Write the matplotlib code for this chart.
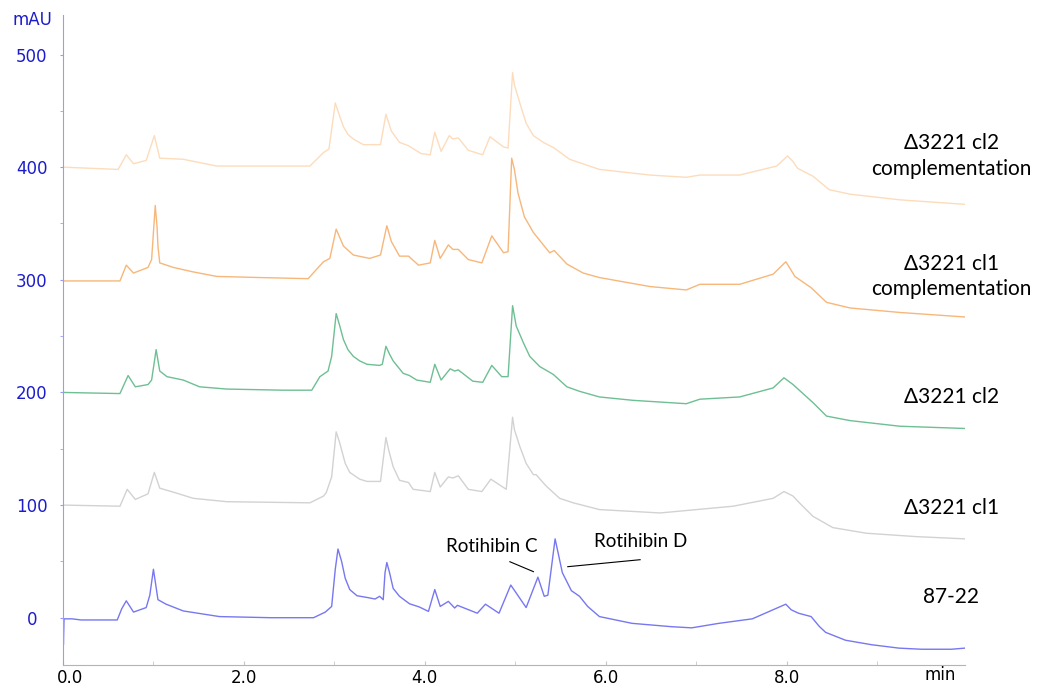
import matplotlib.pyplot as plt
import matplotlib.transforms as mtransforms
from matplotlib.ticker import MultipleLocator

# retention time (min) / absorbance (mAU)
t_8722 = [0.0, 0.005, 0.012, 0.1, 0.2, 0.6, 0.65, 0.70, 0.78, 0.92, 0.96, 1.0, 1.05, 1.14, 1.33,
          1.73, 2.3, 2.77, 2.90, 2.97, 3.01, 3.04, 3.08, 3.12, 3.17, 3.25, 3.36, 3.45, 3.50,
          3.54, 3.56, 3.58, 3.61, 3.65, 3.72, 3.83, 3.94, 4.04, 4.11, 4.17, 4.26, 4.33, 4.36,
          4.58, 4.67, 4.82, 4.95, 5.12, 5.25, 5.32, 5.36, 5.44, 5.52, 5.62, 5.71, 5.80, 5.93,
          6.29, 6.73, 6.95, 7.25, 7.62, 7.99, 8.05, 8.13, 8.27, 8.36, 8.43, 8.65, 8.94, 9.24,
          9.49, 9.82, 9.97]
v_8722 = [0, -24, -1, -1, -2, -2, 8, 15, 5, 9, 20, 43, 16, 12, 6,
          1, 0, 0, 5, 10, 43, 61, 50, 35, 25, 19.5, 18, 16.6, 19,
          16, 40, 49, 40, 26, 19, 12.4, 9.5, 5.6, 25, 10, 14.5, 8.6, 11,
          4, 12, 4, 29, 9, 36, 19, 20, 70, 40, 24, 19, 10, 1,
          -5, -8, -9, -5, -1, 12, 7, 4, 1, -7.7, -13, -20, -24, -27,
          -28, -28, -27]

t_cl1 = [0.0, 0.63, 0.71, 0.80, 0.94, 1.01, 1.07, 1.24, 1.44, 1.81, 2.73, 2.88, 2.91, 2.97,
         3.02, 3.06, 3.12, 3.17, 3.28, 3.36, 3.51, 3.57, 3.60, 3.65, 3.72, 3.82, 3.87, 4.06,
         4.11, 4.17, 4.26, 4.31, 4.37, 4.48, 4.63, 4.73, 4.90, 4.97, 4.99, 5.05, 5.12, 5.20,
         5.23, 5.34, 5.49, 5.64, 5.93, 6.60, 7.41, 7.85, 7.97, 8.07, 8.14, 8.29, 8.51, 8.88,
         9.43, 9.97]
v_cl1 = [100, 99, 114, 105, 110, 129, 115, 111, 106, 103, 102, 108, 111, 125,
         165, 155, 137, 129, 123, 121, 121, 160, 149, 134, 122, 120, 114, 112,
         129, 116, 125, 124, 126, 114, 112, 123, 114, 178, 167, 152, 137, 127,
         127, 117, 106, 102, 96, 93, 99, 106, 112, 108, 102, 90, 80, 75,
         72, 70]

t_cl2 = [0.0, 0.63, 0.72, 0.80, 0.94, 0.98, 1.03, 1.07, 1.15, 1.33, 1.51, 1.81, 2.43, 2.75,
         2.84, 2.93, 2.97, 3.02, 3.06, 3.10, 3.15, 3.21, 3.28, 3.36, 3.50, 3.53, 3.57, 3.61,
         3.65, 3.76, 3.83, 3.91, 4.06, 4.11, 4.18, 4.28, 4.33, 4.37, 4.53, 4.64, 4.74, 4.85,
         4.92, 4.97, 4.99, 5.01, 5.09, 5.16, 5.27, 5.42, 5.57, 5.71, 5.93, 6.30, 6.89, 7.04,
         7.48, 7.85, 7.97, 8.07, 8.29, 8.44, 8.70, 9.25, 9.97]
v_cl2 = [200, 199, 215, 205, 207, 211, 238, 219, 214, 211, 205, 203, 202, 202,
         214, 219, 232, 270, 259, 247, 238, 232, 228, 225, 224, 225, 241, 234,
         228, 217, 215, 211, 209, 225, 211, 221, 219, 220, 210, 209, 224, 214,
         214, 277, 268, 259, 244, 232, 223, 216, 205, 201, 196, 193, 190, 194,
         196, 204, 213, 207, 191, 179, 175, 170, 168]

t_cl1_comp = [0.0, 0.63, 0.70, 0.78, 0.94, 0.98, 1.02, 1.04, 1.05, 1.07, 1.22, 1.44, 1.70,
              2.18, 2.71, 2.80, 2.88, 2.95, 3.02, 3.10, 3.21, 3.39, 3.51, 3.58, 3.63, 3.72,
              3.82, 3.93, 4.06, 4.11, 4.17, 4.26, 4.31, 4.37, 4.48, 4.63, 4.74, 4.87, 4.92,
              4.96, 4.99, 5.03, 5.10, 5.20, 5.29, 5.38, 5.43, 5.57, 5.75, 5.93, 6.49, 6.89,
              7.04, 7.48, 7.85, 7.99, 8.03, 8.09, 8.27, 8.44, 8.70, 9.25, 9.97]
v_cl1_comp = [299, 299, 313, 306, 311, 318, 366, 347, 330, 315, 311, 307, 303,
              302, 301, 309, 316, 319, 345, 330, 322, 319, 322, 348, 334, 321,
              321, 313, 315, 335, 319, 331, 327, 327, 318, 315, 339, 324, 325,
              408, 398, 377, 356, 342, 333, 324, 326, 314, 306, 302, 294, 291,
              296, 296, 305, 316, 311, 303, 293, 280, 275, 271, 267]

t_cl2_comp = [0.0, 0.61, 0.70, 0.78, 0.92, 1.01, 1.07, 1.33, 1.70, 2.73, 2.88, 2.94, 3.01,
              3.06, 3.10, 3.15, 3.21, 3.32, 3.51, 3.57, 3.63, 3.72, 3.82, 3.96, 4.06, 4.11,
              4.18, 4.27, 4.31, 4.37, 4.48, 4.64, 4.72, 4.87, 4.92, 4.97, 4.99, 5.05, 5.12,
              5.20, 5.31, 5.43, 5.60, 5.93, 6.49, 6.89, 7.04, 7.48, 7.89, 8.01, 8.07, 8.12,
              8.29, 8.47, 8.70, 9.25, 9.97]
v_cl2_comp = [400, 398, 411, 403, 406, 428, 408, 407, 401, 401, 413, 416, 457,
              445, 436, 429, 425, 420, 420, 447, 432, 422, 419, 412, 411, 431,
              414, 428, 425, 426, 415, 411, 427, 418, 417, 484, 473, 457, 439,
              428, 422, 417, 407, 398, 393, 391, 393, 393, 401, 410, 405, 399,
              392, 380, 376, 371, 367]

traces = [
    (t_8722, v_8722, '#7777f2'),
    (t_cl1, v_cl1, '#d2d2d2'),
    (t_cl2, v_cl2, '#6ebf93'),
    (t_cl1_comp, v_cl1_comp, '#f7b77a'),
    (t_cl2_comp, v_cl2_comp, '#fddcbc'),
]

labels = ['87-22', '\u03943221 cl1', '\u03943221 cl2',
          '\u03943221 cl1\ncomplementation', '\u03943221 cl2\ncomplementation']
label_y = [18, 97, 196, 303, 410]

fig = plt.figure(figsize=(10.39, 6.87), dpi=100)
ax = fig.add_axes([0.0606, 0.032, 0.8681, 0.946])

for t, v, c in traces:
    ax.plot(t, v, color=c, lw=1.0)

ax.set_xlim(0, 9.97)
ax.set_ylim(-42, 535)

for s in ['top', 'right']:
    ax.spines[s].set_visible(False)
ax.spines['left'].set_color('#9a9af8')
ax.spines['bottom'].set_color('#b4b4b4')

ax.set_yticks([0, 100, 200, 300, 400, 500])
ax.yaxis.set_minor_locator(MultipleLocator(50))
ax.tick_params(axis='y', which='both', length=2.5, color='#9a9af8', labelcolor='#1c1ccc',
               labelsize=12, pad=20)
for lab in ax.get_yticklabels():
    lab.set_horizontalalignment('center')

ax.xaxis.set_minor_locator(MultipleLocator(1))
ax.set_xticks([0, 2, 4, 6, 8])
ax.set_xticklabels(['0.0', '2.0', '4.0', '6.0', '8.0'])
ax.tick_params(axis='x', which='both', direction='in', length=3, color='#c8c8c8',
               labelsize=12, pad=3)
# first label sits a little right of the axis corner
first = ax.get_xticklabels()[0]
first.set_transform(first.get_transform() +
                    mtransforms.ScaledTranslation(7 / 100, 0, fig.dpi_scale_trans))

ax.text(-0.34, 531, 'mAU', color='#1c1ccc', fontsize=12, ha='center', va='center')
ax.text(9.7, -51, 'min', fontsize=12, ha='center', va='center')

for lab, y in zip(labels, label_y):
    ax.text(9.82, y, lab, fontsize=15, family='Lato', ha='center', va='center',
            linespacing=1.35)

# peak annotations
ax.text(4.74, 63, 'Rotihibin C', fontsize=13.5, family='Lato', ha='center', va='center')
ax.text(6.38, 67.5, 'Rotihibin D', fontsize=13.5, family='Lato', ha='center', va='center')
ax.plot([4.94, 5.20], [49.7, 40.9], color='black', lw=0.8)
ax.plot([5.58, 6.38], [45.3, 51.5], color='black', lw=0.8)

fig.savefig('out.png', dpi=100)
